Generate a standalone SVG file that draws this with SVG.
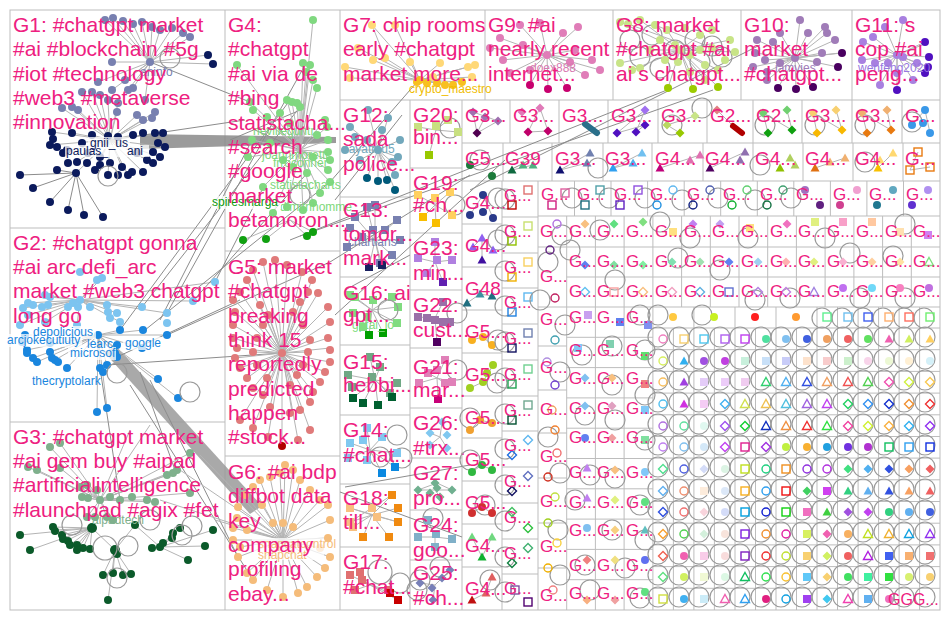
<svg xmlns="http://www.w3.org/2000/svg" width="950" height="620" viewBox="0 0 950 620">
<style>
.bx{fill:none;stroke:#BDBDBD;stroke-width:1}
.lb{font-family:"Liberation Sans",Arial,sans-serif;font-size:21px;fill:#EE2080}
.m{font-size:19px}
.s{font-size:17px}
.e{stroke:#B4B4B4;stroke-width:1;fill:none}
.ed{stroke:#8C8C8C;stroke-width:1;fill:none}
.lp{fill:none;stroke:#9A9A9A;stroke-width:1.2}
.nl{font-family:"Liberation Sans",Arial,sans-serif;font-size:12px}
.bg{fill:#fff;opacity:.75}
</style>
<defs>
<circle id="L" r="10" class="lp"/>
<circle id="sp" r="4"/>
<circle id="hc" r="4" fill="none" stroke-width="1.4"/>
<rect id="hs" x="-4" y="-4" width="8" height="8" fill="none" stroke-width="1.4"/>
<path id="ht" d="M0,-4.5L4.5,3.5L-4.5,3.5Z" fill="none" stroke-width="1.4"/>
<path id="hd" d="M0,-4.5L4.5,0L0,4.5L-4.5,0Z" fill="none" stroke-width="1.4"/>
<rect id="fs" x="-4" y="-4" width="8" height="8"/>
<path id="fd" d="M0,-4.5L4.5,0L0,4.5L-4.5,0Z"/>
<path id="ft" d="M0,-4.5L4.5,3.5L-4.5,3.5Z"/>
</defs>
<rect width="950" height="620" fill="#fff"/>

<g id="grid" class="bx">
<rect x="10" y="10" width="930" height="600"/>
<path d="M10,228H225M10,422H225M225,10V610M225,251H340M225,456H340M340,10V610M340,100H940M485,10V100M613,10V100M741,10V100M852,10V100
M340,197H410M340,277H410M340,345H410M340,415H410M340,484H410M340,547H410M410,100V610
M410,168H462M410,233H462M410,290H462M410,348H462M410,408H462M410,458H462M410,510H462M410,560H462M462,100V610
M462,143H940M510,100V143M559,100V143M608,100V143M658,100V143M707,100V143M753,100V143M802,100V143M852,100V143M902,100V143
M462,181H940M503,143V181M552,143V181M603,143V181M652,143V181M703,143V181M753,143V181M803,143V181M853,143V181M903,143V181
M462,224H502M462,267H502M462,310H502M462,353H502M462,396H502M462,438H502M462,481H502M462,524H502M462,567H502M502,181V610
M502,217H538M502,253H538M502,288H538M502,324H538M502,360H538M502,396H538M502,431H538M502,467H538M502,503H538M502,539H538M502,574H538M538,181V610
M574.5,181V216M611,181V216M647.6,181V216M684.2,181V216M720.7,181V216M757.3,181V216M793.8,181V216M830.4,181V216M866.9,181V216M903.5,181V216
M538,216H940M538,247H940M566.7,277H940M538,307H940
M566.7,216V610M595.4,216V610M624.1,216V610M652.9,216V610M681.6,216V307M710.3,216V307M739,216V307M767.7,216V307M796.4,216V307M825.1,216V307M853.9,216V307M882.6,216V307M911.3,216V307
M538,346H566.7M538,390H566.7M538,433H566.7M538,478H566.7M538,523H566.7M538,568H566.7
M566.7,337.3H652.9M566.7,367.6H652.9M566.7,397.9H652.9M566.7,428.2H652.9M566.7,458.5H652.9M566.7,488.8H652.9M566.7,519.1H652.9M566.7,549.4H652.9M566.7,579.7H652.9
M652.9,328H940M652.9,349.7H940M652.9,371.4H940M652.9,393.1H940M652.9,414.8H940M652.9,436.5H940M652.9,458.1H940M652.9,479.8H940M652.9,501.5H940M652.9,523.2H940M652.9,544.9H940M652.9,566.6H940M652.9,588.3H940
M673.4,328V610M693.9,307V610M714.4,328V610M735,307V610M755.5,328V610M776,307V610M796.5,328V610M817,307V610M837.5,307V610M858.1,307V610M878.6,307V610M899.1,307V610M919.6,307V610"/>
</g>

<g id="edges">
<polygon points="140,134 336,137 336,143 140,149" fill="#8A8A8A" opacity="0.85"/>
<polygon points="104,352 116,346 262,506 250,514" fill="#9A9A9A" opacity="0.85"/>
<path class="e" d="M150,62L105,20M150,62L113,18M150,62L123,21M150,62L133,24M150,62L142,22M150,62L152,27M150,62L160,30M150,62L172,28M150,62L183,33M150,62L190,37M150,62L208,55M150,62L213,64M150,62L112,62M150,62L133,88M150,62L128,90M150,62L112,90M150,62L125,80M150,62L145,100M150,62L98,82
M110,140L82,92M110,140L92,92M110,140L100,95M110,140L108,100M110,140L62,108M110,140L72,107M110,140L78,110M110,140L118,103M110,140L117,112M110,140L137,115M110,140L143,120M110,140L152,118M110,140L155,112
M110,140L52,132M110,140L50,145M110,140L72,133M110,140L92,135M110,140L133,135M110,140L163,133M110,140L165,147M110,140L160,157M110,140L153,163M110,140L143,172M110,140L128,175M110,140L108,175M110,140L95,170M110,140L77,162M110,140L63,153M110,140L100,157M110,140L147,160M110,140L122,167M110,140L76,173"/>
<path class="ed" d="M76,173L20,175M76,173L33,188M76,173L50,202M76,173L68,210M76,173L84,215M76,173L103,217M76,173L57,170"/>
<path class="e" d="M80,300L28,303M80,300L45,295M80,300L50,297M80,300L97,280M80,300L102,278M80,300L23,308M80,300L28,315M80,300L20,325M80,300L42,307M80,300L68,307M80,300L90,307M80,300L107,305M80,300L117,313M80,300L120,322M80,300L142,307M80,300L167,313M80,300L193,301M80,300L215,282M80,300L45,322M80,300L77,325
M98,335L25,335M98,335L22,342M98,335L27,350M98,335L33,358M98,335L37,362M98,335L50,352M98,335L55,360M98,335L67,368M98,335L120,330M98,335L143,330M98,335L167,335M98,335L142,348M98,335L117,357M98,335L107,365M98,335L100,368M98,335L158,379M98,335L178,398M98,335L97,412M98,335L107,408"/>
<path class="ed" d="M142,307L300,107M167,313L305,65M193,301L310,170M215,282L262,190M120,330L290,100M145,330L330,182M160,320L252,140M107,365L282,353M117,357L240,300M167,335L330,262M150,380L238,557M130,385L253,580M100,368L120,500M140,372L175,470M110,140L245,120M150,62L250,102M230,140L305,108M300,150L255,130"/>
<path class="e" d="M300,150L313,20M300,150L303,63M300,150L310,65M300,150L306,72M300,150L313,80M300,150L317,88M300,150L287,100M300,150L292,102M300,150L297,103M300,150L300,107M300,150L237,65M300,150L250,102M300,150L253,110M300,150L325,120M300,150L327,127M300,150L328,140M300,150L328,152M300,150L330,160M300,150L328,170M300,150L330,182M300,150L320,193M300,150L313,203M300,150L303,210M300,150L287,207M300,150L273,213M300,150L263,187M300,150L248,157M300,150L252,140M300,150L270,143M300,150L283,160M300,150L293,167M300,150L307,173M300,150L313,157M300,150L317,135M300,150L290,123M300,150L280,113M300,150L267,117M290,220L243,240M290,220L266,239M290,220L307,236M290,220L313,232"/>
<path class="e" d="M282,353L275,260M282,353L287,265M282,353L302,272M282,353L312,280M282,353L318,293M282,353L328,307M282,353L330,322M282,353L328,338M282,353L330,348M282,353L330,362M282,353L325,372M282,353L320,382M282,353L313,392M282,353L310,402M282,353L300,410M282,353L292,412M282,353L263,262M282,353L253,270M282,353L247,280M282,353L240,292M282,353L233,298M282,353L235,312M282,353L233,325M282,353L233,338M282,353L237,348M282,353L235,358M282,353L240,368M282,353L247,378M282,353L253,388M282,353L263,395M282,353L270,407M282,353L308,292M282,353L300,302M282,353L293,312M282,353L260,305M282,353L268,315M282,353L303,325M282,353L310,340M282,353L308,352M282,353L303,365M282,353L297,375M282,353L290,385M282,353L267,378M282,353L257,365M282,353L253,352M282,353L257,338M282,353L263,325M282,353L310,430M282,353L298,440M282,353L268,437M282,353L253,428M282,353L240,420M282,353L282,446"/>
<path class="e" d="M283,540L285,465M283,540L293,470M283,540L280,473M283,540L270,477M283,540L260,480M283,540L253,487M283,540L238,507M283,540L237,518M283,540L233,528M283,540L247,530M283,540L273,523M283,540L283,523M283,540L293,527M283,540L330,520M283,540L328,538M283,540L320,548M283,540L330,557M283,540L325,568M283,540L317,577M283,540L307,587M283,540L298,593M283,540L283,597M283,540L267,590M283,540L253,580M283,540L247,573M283,540L238,557M283,540L240,547M283,540L233,540M283,540L300,480M283,540L310,490M283,540L320,500M283,540L328,505M283,540L245,495M283,540L262,505M283,540L180,470M283,540L160,500M283,540L200,455M283,540L215,520"/>
<path class="e" d="M100,500L50,447M100,500L60,443M100,500L28,467M100,500L37,470M100,500L60,468M100,500L173,473M100,500L190,493M100,500L82,497M100,500L88,498M100,500L110,497M100,500L120,500M100,500L132,497M100,500L147,500M100,500L155,502M100,500L177,470M100,500L190,453M100,500L167,475M100,500L80,487M100,500L87,485M100,500L97,490M100,500L113,520M100,500L107,517M100,500L95,517M100,500L87,517M100,500L130,430M100,500L150,425
M92,528L20,535M92,528L30,550M92,528L53,527M92,528L55,530M92,528L62,535M92,528L63,538M92,528L68,540M92,528L70,545M92,528L77,545M92,528L83,548M92,528L90,549M92,528L77,550M115,550L92,528M115,550L117,553M115,550L135,525M115,550L103,575M115,550L113,573M115,550L123,575M115,550L131,574M115,550L108,600M160,547L152,548M160,547L163,543M160,547L172,538M160,547L173,533M160,547L180,528M160,547L205,546M160,547L188,560M160,547L213,530M160,547L135,525"/>
<path class="e" d="M420,80L372,25M420,80L395,25M420,80L358,48M420,80L345,67M420,80L350,78M420,80L373,60M420,80L385,58M420,80L410,62M420,80L440,63M420,80L468,67M420,80L472,77M420,80L475,65M420,80L417,82M420,80L427,83M420,80L437,83M420,80L445,85M420,80L453,85M420,80L462,82M420,80L433,77M372,25L385,58
M547,55L520,25M547,55L540,23M547,55L578,27M547,55L563,33M547,55L500,38M547,55L490,48M547,55L503,60M547,55L523,45M547,55L575,50M547,55L592,60M547,55L600,70M547,55L585,75M547,55L510,73M547,55L530,70M547,55L570,62M547,55L530,85M547,55L548,89M547,55L567,88
M680,50L620,22M680,50L640,20M680,50L667,30M680,50L700,35M680,50L730,40M680,50L735,52M680,50L620,63M680,50L632,70M680,50L650,50M680,50L665,60M680,50L705,65M680,50L718,70M680,50L690,72M680,50L705,80M680,50L668,88M680,50L693,89M680,50L718,87M628,24L700,50M655,25L712,48
M795,58L780,33M795,58L800,20M795,58L808,33M795,58L825,27M795,58L827,33M795,58L835,40M795,58L822,53M795,58L817,62M795,58L840,53M795,58L838,67M795,58L773,42M795,58L757,40M795,58L755,53M795,58L765,60M795,58L767,72M795,58L780,63M795,58L767,80M795,58L753,67M795,58L778,88M795,58L796,89M795,58L813,87M795,58L842,53
M897,55L903,20M897,55L885,27M897,55L873,37M897,55L863,42M897,55L862,60M897,55L875,63M897,55L888,63M897,55L903,57M897,55L917,63M897,55L897,73M897,55L880,85M897,55L913,80M897,55L927,43M897,55L925,42M897,55L929,57M897,55L928,67M897,55L925,73M897,55L897,90"/>
<path class="e" d="M378,150L368,110M378,150L388,118M378,150L350,127M378,150L355,137M378,150L367,140M378,150L398,157M378,150L392,162M378,150L345,150M378,150L360,160M378,150L400,140M378,150L382,130M378,150L395,175M378,150L367,178M378,150L378,181M378,150L387,180M378,150L395,190
M375,240L367,207M375,240L375,205M375,240L397,220M375,240L400,240M375,240L385,230M375,240L373,230M375,240L392,255M375,240L380,263M375,240L362,237M375,240L347,247M375,240L350,228M375,240L355,217M375,240L369,267M375,240L382,265
M372,310L350,295M372,310L355,297M372,310L373,300M372,310L392,297M372,310L398,307M372,310L397,323M372,310L367,317M372,310L353,313M372,310L363,327M372,310L369,335M372,310L383,333
M375,380L370,357M375,380L380,367M375,380L348,375M375,380L352,387M375,380L372,377M375,380L397,383M375,380L390,393M375,380L363,403M375,380L378,405M375,380L392,397M375,380L353,398
M370,450L350,443M370,450L363,440M370,450L367,428M370,450L382,437M370,450L397,453M370,450L367,460M370,450L348,458M370,450L382,473M370,450L395,467
M372,515L350,508M372,515L377,517M372,515L350,522M372,515L353,527M372,515L392,495M372,515L398,508M372,515L398,522M372,515L363,537M372,515L389,537M350,508L398,522M350,522L392,495
M370,585L350,575M370,585L360,572M370,585L362,580M370,585L355,590M370,585L388,590M370,585L398,600M370,585L390,593"/>
<path class="e" d="M436,130L418,127M436,130L436,126M436,130L448,120M436,130L458,132M436,130L429,155M435,205L418,195M435,205L435,198M435,205L450,192M435,205L452,215M435,205L423,217M435,205L436,223M435,262L418,258M435,262L437,260M435,262L435,242M435,262L452,260M435,262L427,273M435,262L443,282M435,318L418,317M435,318L450,322M435,318L443,302M435,318L437,342M437,378L445,360M437,378L428,373M437,378L419,383M437,378L445,383M437,378L452,382M437,378L438,397M440,437L430,433M440,437L442,422M440,437L447,448M440,437L430,445M435,490L418,490M435,490L452,490M435,490L437,483M435,490L440,497M418,490L437,483M452,490L437,483M435,537L418,537M435,537L452,539M435,537L428,520M435,537L435,547M435,585L420,583M435,585L450,570M435,585L442,578M435,585L433,600"/>
<path class="ed" d="M290,240L667,90M300,236L713,90M335,315L505,160M470,190L760,45M330,182L417,82M335,200L402,115M340,492L462,537M345,487L470,465M330,262L470,175M345,290L410,255"/>
<path class="e" d="M473,112L498,121M473,112L477,133M485,117L477,133M498,121L477,133M540,108L528,132M540,108L548,131M528,132L548,131M645,110L617,133M645,110L636,132M617,133L645,125M636,132L645,125M667,125L680,133M695,116L667,125M717,110L733,126M763,113L768,133M787,110L792,130M763,113L792,130M813,113L817,133M836,110L842,130M813,113L842,130M862,113L867,133M887,110L891,130M862,113L891,130M925,110L912,125M925,110L930,133M512,170L533,165M560,170L590,153M560,170L587,163M642,153L613,168M633,163L613,168M660,168L700,155M710,168L745,152M815,168L845,158M878,168L893,153M918,152L910,170M910,170L930,167M483,195L470,215M483,195L493,218M482,238L473,247M482,238L493,250M482,238L482,260M467,303L480,294M480,294L492,296M472,340L483,337M483,337L492,345M470,388L483,382M483,382L493,365M470,430L480,420M480,420L492,423M472,472L482,465M482,465L492,470M472,513L482,507M482,507L492,513M482,557L472,537M482,557L492,537M472,600L486,593M486,593L492,577"/>
</g>

<g id="G1">
<g fill="#7880B0"><circle cx="105" cy="20" r="4"/><circle cx="113" cy="18" r="4"/><circle cx="123" cy="21" r="4"/><circle cx="133" cy="24" r="4"/><circle cx="142" cy="22" r="4"/><circle cx="152" cy="27" r="4"/><circle cx="160" cy="30" r="4"/><circle cx="172" cy="28" r="4"/><circle cx="183" cy="33" r="4"/><circle cx="190" cy="37" r="4"/><circle cx="112" cy="62" r="4"/><circle cx="133" cy="88" r="4"/><circle cx="128" cy="90" r="4"/><circle cx="112" cy="90" r="4"/><circle cx="125" cy="80" r="4"/><circle cx="145" cy="100" r="4"/><circle cx="98" cy="82" r="4"/><circle cx="82" cy="92" r="4"/><circle cx="92" cy="92" r="4"/><circle cx="100" cy="95" r="4"/><circle cx="108" cy="100" r="4"/><circle cx="62" cy="108" r="4"/><circle cx="72" cy="107" r="4"/><circle cx="78" cy="110" r="4"/><circle cx="118" cy="103" r="4"/><circle cx="117" cy="112" r="4"/><circle cx="137" cy="115" r="4"/><circle cx="143" cy="120" r="4"/><circle cx="152" cy="118" r="4"/><circle cx="155" cy="112" r="4"/><circle cx="150" cy="62" r="4"/></g>
<g fill="#0B1A5C"><circle cx="208" cy="55" r="4"/><circle cx="213" cy="64" r="4"/><circle cx="52" cy="132" r="4"/><circle cx="53" cy="139" r="4"/><circle cx="50" cy="145" r="4"/><circle cx="57" cy="147" r="4"/><circle cx="72" cy="133" r="4"/><circle cx="82" cy="143" r="4"/><circle cx="92" cy="135" r="4"/><circle cx="108" cy="136" r="4"/><circle cx="118" cy="137" r="4"/><circle cx="133" cy="135" r="4"/><circle cx="143" cy="133" r="4"/><circle cx="155" cy="133" r="4"/><circle cx="163" cy="133" r="4"/><circle cx="158" cy="143" r="4"/><circle cx="153" cy="152" r="4"/><circle cx="165" cy="147" r="4"/><circle cx="160" cy="157" r="4"/><circle cx="153" cy="163" r="4"/><circle cx="143" cy="172" r="4"/><circle cx="132" cy="172" r="4"/><circle cx="128" cy="175" r="4"/><circle cx="118" cy="175" r="4"/><circle cx="108" cy="175" r="4"/><circle cx="95" cy="170" r="4"/><circle cx="87" cy="163" r="4"/><circle cx="77" cy="162" r="4"/><circle cx="68" cy="163" r="4"/><circle cx="63" cy="153" r="4"/><circle cx="67" cy="150" r="4"/><circle cx="88" cy="153" r="4"/><circle cx="100" cy="157" r="4"/><circle cx="137" cy="153" r="4"/><circle cx="147" cy="160" r="4"/><circle cx="122" cy="167" r="4"/><circle cx="110" cy="163" r="4"/><circle cx="100" cy="165" r="4"/><circle cx="76" cy="173" r="4"/><circle cx="20" cy="175" r="4"/><circle cx="33" cy="188" r="4"/><circle cx="50" cy="202" r="4"/><circle cx="68" cy="210" r="4"/><circle cx="84" cy="215" r="4"/><circle cx="103" cy="217" r="4"/><circle cx="57" cy="170" r="4"/></g>
<use href="#L" x="108" y="176"/><use href="#L" x="170" y="58"/>
<rect class="bg" x="88" y="137" width="42" height="12"/><rect class="bg" x="65" y="145" width="84" height="12"/>
<text class="nl" x="90" y="147" fill="#0B1A5C">gnii_us</text>
<text class="nl" x="66" y="155" fill="#0B1A5C">paulas_</text><text class="nl" x="127" y="155" fill="#0B1A5C">ani</text>
<text class="nl" x="140" y="76" fill="#7880B0">aninfo</text>
<text class="lb" x="13" y="32">G1: #chatgpt market</text>
<text class="lb" x="13" y="56">#ai #blockchain #5g</text>
<text class="lb" x="13" y="81">#iot #technology</text>
<text class="lb" x="13" y="105">#web3 #metaverse</text>
<text class="lb" x="13" y="129">#innovation</text>
</g>

<g id="G2">
<g fill="#7CC4F0"><circle cx="80" cy="272" r="4"/><circle cx="97" cy="280" r="4"/><circle cx="102" cy="278" r="4"/><circle cx="45" cy="295" r="4"/><circle cx="50" cy="297" r="4"/><circle cx="28" cy="303" r="4"/><circle cx="33" cy="305" r="4"/><circle cx="23" cy="308" r="4"/><circle cx="28" cy="315" r="4"/><circle cx="20" cy="325" r="4"/><circle cx="42" cy="307" r="4"/><circle cx="48" cy="305" r="4"/><circle cx="68" cy="307" r="4"/><circle cx="73" cy="303" r="4"/><circle cx="78" cy="307" r="4"/><circle cx="90" cy="307" r="4"/><circle cx="107" cy="305" r="4"/><circle cx="108" cy="312" r="4"/><circle cx="117" cy="313" r="4"/><circle cx="110" cy="318" r="4"/><circle cx="120" cy="322" r="4"/><circle cx="142" cy="307" r="4"/><circle cx="167" cy="313" r="4"/><circle cx="167" cy="323" r="4"/><circle cx="193" cy="301" r="4"/><circle cx="215" cy="282" r="4"/><circle cx="45" cy="322" r="4"/><circle cx="77" cy="325" r="4"/><circle cx="80" cy="300" r="4"/></g>
<g fill="#1A86DE"><circle cx="25" cy="335" r="4"/><circle cx="22" cy="342" r="4"/><circle cx="27" cy="350" r="4"/><circle cx="27" cy="353" r="4"/><circle cx="33" cy="358" r="4"/><circle cx="37" cy="362" r="4"/><circle cx="50" cy="352" r="4"/><circle cx="52" cy="358" r="4"/><circle cx="55" cy="360" r="4"/><circle cx="58" cy="362" r="4"/><circle cx="67" cy="368" r="4"/><circle cx="50" cy="343" r="4"/><circle cx="98" cy="335" r="4"/><circle cx="120" cy="330" r="4"/><circle cx="143" cy="330" r="4"/><circle cx="167" cy="335" r="4"/><circle cx="142" cy="348" r="4"/><circle cx="117" cy="345" r="4"/><circle cx="117" cy="357" r="4"/><circle cx="115" cy="353" r="4"/><circle cx="107" cy="365" r="4"/><circle cx="100" cy="368" r="4"/><circle cx="103" cy="372" r="4"/><circle cx="158" cy="379" r="4"/><circle cx="178" cy="398" r="4"/><circle cx="97" cy="412" r="4"/><circle cx="107" cy="408" r="4"/></g>
<use href="#L" x="190" y="392"/><use href="#L" x="117" y="373"/>
<rect class="bg" x="32" y="326" width="64" height="13"/><rect class="bg" x="6" y="334" width="76" height="13"/><rect class="bg" x="68" y="347" width="48" height="13"/><rect class="bg" x="123" y="337" width="38" height="13"/>
<text class="nl" x="33" y="336" fill="#1A86DE">depolicious</text>
<text class="nl" x="7" y="344" fill="#1A86DE">arcjokecutiuty</text>
<text class="nl" x="87" y="348" fill="#1A86DE">learc</text>
<text class="nl" x="70" y="357" fill="#1A86DE">microsof</text>
<text class="nl" x="125" y="347" fill="#1A86DE">google</text>
<text class="nl" x="32" y="385" fill="#1A86DE">thecryptolark</text>
<text class="lb" x="13" y="250">G2: #chatgpt gonna</text>
<text class="lb" x="13" y="274">#ai arc defi_arc</text>
<text class="lb" x="13" y="298">market #web3 chatgpt</text>
<text class="lb" x="13" y="323">long go</text>
</g>

<g id="G3">
<g fill="#7FB08C"><circle cx="50" cy="447" r="4"/><circle cx="60" cy="443" r="4"/><circle cx="28" cy="467" r="4"/><circle cx="37" cy="470" r="4"/><circle cx="60" cy="468" r="4"/><circle cx="173" cy="473" r="4"/><circle cx="190" cy="493" r="4"/><circle cx="82" cy="497" r="4"/><circle cx="88" cy="498" r="4"/><circle cx="110" cy="497" r="4"/><circle cx="120" cy="500" r="4"/><circle cx="132" cy="497" r="4"/><circle cx="147" cy="500" r="4"/><circle cx="155" cy="502" r="4"/><circle cx="177" cy="470" r="4"/><circle cx="190" cy="453" r="4"/><circle cx="167" cy="475" r="4"/><circle cx="80" cy="487" r="4"/><circle cx="87" cy="485" r="4"/><circle cx="97" cy="490" r="4"/><circle cx="113" cy="520" r="4"/><circle cx="107" cy="517" r="4"/><circle cx="95" cy="517" r="4"/><circle cx="87" cy="517" r="4"/><circle cx="100" cy="500" r="4"/></g>
<g fill="#0B5A2A"><circle cx="20" cy="535" r="4"/><circle cx="30" cy="550" r="4"/><circle cx="53" cy="527" r="4"/><circle cx="55" cy="531" r="4"/><circle cx="62" cy="535" r="4"/><circle cx="63" cy="539" r="4"/><circle cx="68" cy="541" r="4"/><circle cx="70" cy="545" r="4"/><circle cx="77" cy="545" r="4"/><circle cx="83" cy="548" r="4"/><circle cx="90" cy="549" r="4"/><circle cx="77" cy="550" r="4"/><circle cx="92" cy="528" r="5"/><circle cx="115" cy="550" r="5"/><circle cx="117" cy="554" r="4"/><circle cx="135" cy="525" r="4"/><circle cx="152" cy="548" r="4"/><circle cx="160" cy="547" r="4"/><circle cx="163" cy="543" r="4"/><circle cx="172" cy="538" r="4"/><circle cx="173" cy="533" r="4"/><circle cx="180" cy="528" r="4"/><circle cx="205" cy="546" r="4"/><circle cx="188" cy="560" r="4"/><circle cx="213" cy="530" r="4"/><circle cx="103" cy="575" r="4"/><circle cx="113" cy="573" r="4"/><circle cx="123" cy="575" r="4"/><circle cx="131" cy="574" r="4"/><circle cx="108" cy="600" r="4"/></g>
<circle cx="105" cy="548" r="12" class="lp"/><use href="#L" x="128" y="546"/><use href="#L" x="117" y="578"/><use href="#L" x="150" y="520"/><use href="#L" x="182" y="535"/><use href="#L" x="192" y="526"/><use href="#L" x="72" y="525"/>
<text class="nl" x="92" y="524" fill="#7FB08C">aipadtech</text>
<text class="lb" x="13" y="444">G3: #chatgpt market</text>
<text class="lb" x="13" y="468">#ai gem buy #aipad</text>
<text class="lb" x="13" y="492">#artificialintelligence</text>
<text class="lb" x="13" y="517">#launchpad #agix #fet</text>
</g>

<g id="G4">
<g fill="#80D880"><circle cx="313" cy="20" r="4"/><circle cx="303" cy="63" r="4"/><circle cx="310" cy="65" r="4"/><circle cx="306" cy="72" r="4"/><circle cx="313" cy="80" r="4"/><circle cx="317" cy="88" r="4"/><circle cx="287" cy="100" r="4"/><circle cx="292" cy="102" r="4"/><circle cx="297" cy="103" r="4"/><circle cx="300" cy="107" r="4"/><circle cx="237" cy="65" r="4"/><circle cx="250" cy="102" r="4"/><circle cx="253" cy="110" r="4"/><circle cx="325" cy="120" r="4"/><circle cx="327" cy="127" r="4"/><circle cx="328" cy="140" r="4"/><circle cx="328" cy="152" r="4"/><circle cx="330" cy="160" r="4"/><circle cx="328" cy="170" r="4"/><circle cx="330" cy="182" r="4"/><circle cx="320" cy="193" r="4"/><circle cx="313" cy="203" r="4"/><circle cx="303" cy="210" r="4"/><circle cx="287" cy="207" r="4"/><circle cx="273" cy="213" r="4"/><circle cx="263" cy="187" r="4"/><circle cx="248" cy="157" r="4"/><circle cx="252" cy="140" r="4"/><circle cx="270" cy="143" r="4"/><circle cx="283" cy="160" r="4"/><circle cx="293" cy="167" r="4"/><circle cx="307" cy="173" r="4"/><circle cx="313" cy="157" r="4"/><circle cx="317" cy="135" r="4"/><circle cx="290" cy="123" r="4"/><circle cx="280" cy="113" r="4"/><circle cx="267" cy="117" r="4"/></g>
<g fill="#10A010"><circle cx="243" cy="240" r="4"/><circle cx="266" cy="239" r="4"/><circle cx="307" cy="236" r="4"/><circle cx="313" cy="232" r="4"/></g>
<use href="#L" x="300" y="195"/>
<text class="nl" x="253" y="135" fill="#7DD87A">nevilleguntr</text>
<text class="nl" x="262" y="159" fill="#7DD87A">joannmoretti</text>
<text class="nl" x="273" y="167" fill="#7DD87A">frroconner</text>
<text class="nl" x="270" y="189" fill="#7DD87A">statistacharts</text>
<text class="nl" x="280" y="211" fill="#7DD87A">dimitrihomme</text>
<rect class="bg" x="211" y="196" width="70" height="13"/>
<text class="nl" x="212" y="206" fill="#0A9A0A">spiresmarga</text>
<text class="lb" x="228" y="32">G4:</text>
<text class="lb" x="228" y="56">#chatgpt</text>
<text class="lb" x="228" y="81">#ai via de</text>
<text class="lb" x="228" y="105">#bing</text>
<text class="lb" x="228" y="130">statistacha...</text>
<text class="lb" x="228" y="154">#search</text>
<text class="lb" x="228" y="178">#google</text>
<text class="lb" x="228" y="203">market</text>
<text class="lb" x="228" y="227">betamoron...</text>
</g>

<g id="G5">
<g fill="#E07A7A"><circle cx="275" cy="260" r="4"/><circle cx="287" cy="265" r="4"/><circle cx="302" cy="272" r="4"/><circle cx="312" cy="280" r="4"/><circle cx="318" cy="293" r="4"/><circle cx="328" cy="307" r="4"/><circle cx="330" cy="322" r="4"/><circle cx="328" cy="338" r="4"/><circle cx="330" cy="350" r="4"/><circle cx="330" cy="362" r="4"/><circle cx="325" cy="372" r="4"/><circle cx="320" cy="382" r="4"/><circle cx="313" cy="392" r="4"/><circle cx="310" cy="402" r="4"/><circle cx="300" cy="410" r="4"/><circle cx="290" cy="413" r="4"/><circle cx="263" cy="262" r="4"/><circle cx="253" cy="270" r="4"/><circle cx="247" cy="280" r="4"/><circle cx="240" cy="292" r="4"/><circle cx="233" cy="300" r="4"/><circle cx="235" cy="312" r="4"/><circle cx="233" cy="325" r="4"/><circle cx="233" cy="338" r="4"/><circle cx="237" cy="348" r="4"/><circle cx="235" cy="358" r="4"/><circle cx="240" cy="368" r="4"/><circle cx="247" cy="378" r="4"/><circle cx="253" cy="388" r="4"/><circle cx="263" cy="395" r="4"/><circle cx="270" cy="407" r="4"/><circle cx="308" cy="292" r="4"/><circle cx="300" cy="302" r="4"/><circle cx="293" cy="312" r="4"/><circle cx="260" cy="305" r="4"/><circle cx="268" cy="315" r="4"/><circle cx="303" cy="325" r="4"/><circle cx="310" cy="340" r="4"/><circle cx="308" cy="352" r="4"/><circle cx="303" cy="365" r="4"/><circle cx="297" cy="375" r="4"/><circle cx="290" cy="385" r="4"/><circle cx="267" cy="378" r="4"/><circle cx="257" cy="365" r="4"/><circle cx="253" cy="352" r="4"/><circle cx="257" cy="338" r="4"/><circle cx="263" cy="325" r="4"/><circle cx="310" cy="430" r="4"/><circle cx="298" cy="440" r="4"/><circle cx="268" cy="437" r="4"/><circle cx="253" cy="428" r="4"/><circle cx="240" cy="420" r="4"/><circle cx="282" cy="353" r="4"/></g>
<circle cx="282" cy="446" r="4" fill="#B00000"/>
<text class="lb" x="228" y="274">G5: market</text>
<text class="lb" x="228" y="298">#chatgpt</text>
<text class="lb" x="228" y="323">breaking</text>
<text class="lb" x="228" y="347">think 15</text>
<text class="lb" x="228" y="371">reportedly</text>
<text class="lb" x="228" y="396">predicted</text>
<text class="lb" x="228" y="420">happen</text>
<text class="lb" x="228" y="444">#stock...</text>
</g>

<g id="G6">
<g fill="#F5BC7A"><circle cx="285" cy="465" r="4"/><circle cx="293" cy="470" r="4"/><circle cx="280" cy="473" r="4"/><circle cx="270" cy="477" r="4"/><circle cx="260" cy="480" r="4"/><circle cx="253" cy="487" r="4"/><circle cx="238" cy="507" r="4"/><circle cx="237" cy="518" r="4"/><circle cx="233" cy="528" r="4"/><circle cx="247" cy="530" r="4"/><circle cx="273" cy="523" r="4"/><circle cx="283" cy="523" r="4"/><circle cx="293" cy="527" r="4"/><circle cx="330" cy="520" r="4"/><circle cx="328" cy="538" r="4"/><circle cx="320" cy="548" r="4"/><circle cx="330" cy="557" r="4"/><circle cx="325" cy="568" r="4"/><circle cx="317" cy="577" r="4"/><circle cx="307" cy="587" r="4"/><circle cx="298" cy="593" r="4"/><circle cx="283" cy="597" r="4"/><circle cx="267" cy="590" r="4"/><circle cx="253" cy="580" r="4"/><circle cx="247" cy="573" r="4"/><circle cx="238" cy="557" r="4"/><circle cx="240" cy="547" r="4"/><circle cx="233" cy="540" r="4"/><circle cx="300" cy="480" r="4"/><circle cx="310" cy="490" r="4"/><circle cx="320" cy="500" r="4"/><circle cx="328" cy="505" r="4"/><circle cx="245" cy="495" r="4"/><circle cx="262" cy="505" r="4"/></g>
<rect class="bg" x="252" y="538" width="72" height="22"/>
<text class="nl" x="258" y="548" fill="#F5BC7A">snapcatcontrol</text>
<text class="nl" x="258" y="559" fill="#F5BC7A">snapchat</text>
<text class="lb" x="228" y="479">G6: #ai bdp</text>
<text class="lb" x="228" y="503">diffbot data</text>
<text class="lb" x="228" y="528">key</text>
<text class="lb" x="228" y="552">company</text>
<text class="lb" x="228" y="576">profiling</text>
<text class="lb" x="228" y="601">ebay...</text>
</g>

<g id="G7">
<g fill="#FFD877"><circle cx="372" cy="25" r="4"/><circle cx="395" cy="25" r="4"/><circle cx="358" cy="48" r="4"/><circle cx="345" cy="67" r="4"/><circle cx="350" cy="78" r="4"/><circle cx="373" cy="60" r="4"/><circle cx="385" cy="58" r="4"/><circle cx="410" cy="62" r="4"/><circle cx="440" cy="63" r="4"/><circle cx="468" cy="67" r="4"/><circle cx="472" cy="77" r="4"/><circle cx="475" cy="65" r="4"/><circle cx="433" cy="77" r="4"/></g>
<g fill="#F8C020"><circle cx="417" cy="82" r="4"/><circle cx="427" cy="83" r="4"/><circle cx="437" cy="83" r="4"/><circle cx="445" cy="85" r="4"/><circle cx="453" cy="85" r="4"/><circle cx="462" cy="82" r="4"/><circle cx="420" cy="80" r="4"/></g>
<text class="nl" x="409" y="93" fill="#F0BC00">crypto_maestro</text>
<text class="lb" x="343" y="32">G7: chip rooms</text>
<text class="lb" x="343" y="56">early #chatgpt</text>
<text class="lb" x="343" y="81">market more...</text>
</g>

<g id="G9">
<g fill="#E07DB8"><circle cx="520" cy="25" r="4"/><circle cx="540" cy="23" r="4"/><circle cx="578" cy="27" r="4"/><circle cx="563" cy="33" r="4"/><circle cx="500" cy="38" r="4"/><circle cx="490" cy="48" r="4"/><circle cx="503" cy="60" r="4"/><circle cx="523" cy="45" r="4"/><circle cx="575" cy="50" r="4"/><circle cx="592" cy="60" r="4"/><circle cx="600" cy="70" r="4"/><circle cx="585" cy="75" r="4"/><circle cx="510" cy="73" r="4"/><circle cx="530" cy="70" r="4"/><circle cx="570" cy="62" r="4"/><circle cx="547" cy="55" r="4"/></g>
<g fill="#C8006E"><circle cx="530" cy="85" r="4"/><circle cx="548" cy="89" r="4"/><circle cx="567" cy="88" r="4"/></g>
<text class="nl" x="530" y="72" fill="#D87AB0">doex888</text>
<text class="lb" x="488" y="32">G9: #ai</text>
<text class="lb" x="488" y="56">nearly recent</text>
<text class="lb" x="488" y="81">internet...</text>
</g>

<g id="G8">
<g class="lp"><circle cx="630" cy="40" r="10"/><circle cx="652" cy="35" r="10"/><circle cx="675" cy="50" r="10"/><circle cx="695" cy="40" r="10"/><circle cx="712" cy="46" r="10"/><circle cx="722" cy="57" r="10"/><circle cx="700" cy="62" r="10"/><circle cx="640" cy="57" r="10"/><circle cx="660" cy="68" r="10"/></g>
<g fill="#C8E487"><circle cx="620" cy="22" r="4"/><circle cx="628" cy="24" r="4"/><circle cx="640" cy="20" r="4"/><circle cx="655" cy="25" r="4"/><circle cx="667" cy="30" r="4"/><circle cx="685" cy="28" r="4"/><circle cx="700" cy="35" r="4"/><circle cx="712" cy="30" r="4"/><circle cx="730" cy="40" r="4"/><circle cx="735" cy="52" r="4"/><circle cx="620" cy="63" r="4"/><circle cx="632" cy="70" r="4"/><circle cx="640" cy="68" r="4"/><circle cx="650" cy="50" r="4"/><circle cx="665" cy="60" r="4"/><circle cx="678" cy="62" r="4"/><circle cx="690" cy="55" r="4"/><circle cx="705" cy="65" r="4"/><circle cx="718" cy="70" r="4"/><circle cx="725" cy="60" r="4"/><circle cx="660" cy="40" r="4"/><circle cx="675" cy="45" r="4"/><circle cx="700" cy="50" r="4"/><circle cx="712" cy="48" r="4"/><circle cx="690" cy="72" r="4"/><circle cx="705" cy="80" r="4"/><circle cx="680" cy="50" r="4"/></g>
<g fill="#9CCB00"><circle cx="668" cy="88" r="4"/><circle cx="693" cy="89" r="4"/><circle cx="718" cy="87" r="4"/></g>
<text class="lb" x="616" y="32">G8: market</text>
<text class="lb" x="616" y="56">#chatgpt #ai</text>
<text class="lb" x="616" y="81">ai s chatgpt...</text>
</g>

<g id="G10">
<g fill="#A07CB8"><circle cx="780" cy="33" r="4"/><circle cx="800" cy="20" r="4"/><circle cx="808" cy="33" r="4"/><circle cx="825" cy="27" r="4"/><circle cx="827" cy="33" r="4"/><circle cx="835" cy="40" r="4"/><circle cx="822" cy="53" r="4"/><circle cx="817" cy="62" r="4"/><circle cx="773" cy="42" r="4"/><circle cx="757" cy="40" r="4"/><circle cx="755" cy="53" r="4"/><circle cx="765" cy="60" r="4"/><circle cx="767" cy="72" r="4"/><circle cx="780" cy="63" r="4"/><circle cx="767" cy="80" r="4"/><circle cx="753" cy="67" r="4"/><circle cx="795" cy="58" r="4"/></g>
<g fill="#4A0060"><circle cx="778" cy="88" r="4"/><circle cx="796" cy="89" r="4"/><circle cx="813" cy="87" r="4"/><circle cx="842" cy="53" r="4"/><circle cx="838" cy="67" r="4"/></g>
<text class="nl" x="775" y="72" fill="#A07CB8">iamvies</text>
<text class="lb" x="744" y="32">G10:</text>
<text class="lb" x="744" y="56">market</text>
<text class="lb" x="744" y="81">#chatgpt...</text>
</g>

<g id="G11">
<g fill="#A880E0"><circle cx="903" cy="20" r="4"/><circle cx="885" cy="27" r="4"/><circle cx="873" cy="37" r="4"/><circle cx="863" cy="42" r="4"/><circle cx="862" cy="60" r="4"/><circle cx="875" cy="63" r="4"/><circle cx="888" cy="63" r="4"/><circle cx="903" cy="57" r="4"/><circle cx="917" cy="63" r="4"/><circle cx="897" cy="73" r="4"/><circle cx="880" cy="85" r="4"/><circle cx="913" cy="80" r="4"/><circle cx="897" cy="55" r="4"/></g>
<g fill="#5010C0"><circle cx="925" cy="42" r="4"/><circle cx="929" cy="57" r="4"/><circle cx="928" cy="67" r="4"/><circle cx="925" cy="73" r="4"/><circle cx="897" cy="90" r="4"/></g>
<text class="nl" x="858" y="72" fill="#9878E0">wenfeng2020</text>
<text class="lb" x="855" y="32">G11: s</text>
<text class="lb" x="855" y="56">cop #ai</text>
<text class="lb" x="855" y="81">peng...</text>
</g>

<g id="G12">
<g fill="#72A8BC"><circle cx="368" cy="110" r="4"/><circle cx="388" cy="118" r="4"/><circle cx="350" cy="127" r="4"/><circle cx="355" cy="137" r="4"/><circle cx="367" cy="140" r="4"/><circle cx="398" cy="157" r="4"/><circle cx="392" cy="162" r="4"/><circle cx="345" cy="150" r="4"/><circle cx="360" cy="160" r="4"/><circle cx="400" cy="140" r="4"/><circle cx="382" cy="130" r="4"/><circle cx="395" cy="175" r="4"/><circle cx="378" cy="150" r="4"/></g>
<g fill="#005A7A"><circle cx="367" cy="178" r="4"/><circle cx="378" cy="181" r="4"/><circle cx="387" cy="180" r="4"/><circle cx="395" cy="190" r="4"/></g>
<text class="nl" x="342" y="153" fill="#72A8BC">nayatmu5</text>
<text class="lb" x="343" y="122">G12:</text>
<text class="lb" x="343" y="146">sada</text>
<text class="lb" x="343" y="171">police...</text>
</g>

<g id="G13">
<g fill="#7880B0"><rect x="363" y="203" width="8" height="8"/><rect x="371" y="201" width="8" height="8"/><rect x="393" y="216" width="8" height="8"/><rect x="396" y="236" width="8" height="8"/><rect x="381" y="226" width="8" height="8"/><rect x="369" y="226" width="8" height="8"/><rect x="388" y="251" width="8" height="8"/><rect x="376" y="259" width="8" height="8"/><rect x="358" y="233" width="8" height="8"/><rect x="343" y="243" width="8" height="8"/><rect x="346" y="224" width="8" height="8"/><rect x="351" y="213" width="8" height="8"/></g>
<g fill="#1A2060"><rect x="365" y="263" width="8" height="8"/><rect x="378" y="261" width="8" height="8"/></g>
<text class="nl" x="348" y="246" fill="#7880B0">chartians</text>
<text class="lb" x="343" y="217">G13:</text>
<text class="lb" x="343" y="241">tomor...</text>
<text class="lb" x="343" y="265">mark...</text>
</g>

<g id="G16">
<g fill="#80DC80"><rect x="346" y="291" width="8" height="8"/><rect x="351" y="293" width="8" height="8"/><rect x="369" y="296" width="8" height="8"/><rect x="388" y="293" width="8" height="8"/><rect x="394" y="303" width="8" height="8"/><rect x="393" y="319" width="8" height="8"/><rect x="363" y="313" width="8" height="8"/><rect x="349" y="309" width="8" height="8"/><rect x="359" y="323" width="8" height="8"/></g>
<g fill="#00A000"><rect x="365" y="331" width="8" height="8"/><rect x="379" y="329" width="8" height="8"/></g>
<use href="#L" x="388" y="310"/>
<text class="nl" x="352" y="329" fill="#80DC80">gptai_io</text>
<text class="lb" x="343" y="300">G16: ai</text>
<text class="lb" x="343" y="322">gpt...</text>
</g>

<g id="G15">
<g fill="#70A885"><rect x="366" y="353" width="8" height="8"/><rect x="376" y="363" width="8" height="8"/><rect x="344" y="371" width="8" height="8"/><rect x="348" y="383" width="8" height="8"/><rect x="368" y="373" width="8" height="8"/><rect x="393" y="379" width="8" height="8"/><rect x="386" y="389" width="8" height="8"/></g>
<g fill="#006030"><rect x="359" y="399" width="8" height="8"/><rect x="374" y="401" width="8" height="8"/><rect x="388" y="393" width="8" height="8"/><rect x="349" y="394" width="8" height="8"/></g>
<text class="lb" x="343" y="369">G15:</text>
<text class="lb" x="343" y="392">hebbi...</text>
</g>

<g id="G14">
<g class="lp"><circle cx="397" cy="435" r="10"/><circle cx="380" cy="457" r="10"/><circle cx="402" cy="458" r="10"/></g>
<g fill="#80C8F0"><rect x="346" y="439" width="8" height="8"/><rect x="359" y="436" width="8" height="8"/><rect x="363" y="424" width="8" height="8"/><rect x="378" y="433" width="8" height="8"/><rect x="393" y="449" width="8" height="8"/><rect x="363" y="456" width="8" height="8"/><rect x="344" y="454" width="8" height="8"/></g>
<g fill="#0A88E0"><rect x="378" y="469" width="8" height="8"/><rect x="391" y="463" width="8" height="8"/></g>
<text class="lb" x="343" y="437">G14:</text>
<text class="lb" x="343" y="462">#chat...</text>
</g>

<g id="G18">
<g fill="#F8C080"><rect x="346" y="504" width="8" height="8"/><rect x="368" y="504" width="8" height="8"/><rect x="373" y="513" width="8" height="8"/><rect x="346" y="518" width="8" height="8"/><rect x="349" y="523" width="8" height="8"/></g>
<g fill="#F08A10"><rect x="388" y="491" width="8" height="8"/><rect x="394" y="504" width="8" height="8"/><rect x="394" y="518" width="8" height="8"/><rect x="359" y="533" width="8" height="8"/><rect x="385" y="533" width="8" height="8"/></g>
<text class="lb" x="343" y="505">G18:</text>
<text class="lb" x="343" y="529">till...</text>
</g>

<g id="G17">
<g class="lp"><circle cx="380" cy="572" r="12"/><circle cx="400" cy="583" r="10"/><circle cx="417" cy="590" r="10"/></g>
<g fill="#E07070"><rect x="346" y="571" width="8" height="8"/><rect x="356" y="568" width="8" height="8"/><rect x="358" y="576" width="8" height="8"/><rect x="351" y="586" width="8" height="8"/><rect x="384" y="586" width="8" height="8"/></g>
<g fill="#C80000"><rect x="394" y="596" width="8" height="8"/><rect x="386" y="589" width="8" height="8"/></g>
<text class="lb" x="343" y="569">G17:</text>
<text class="lb" x="343" y="594">#chat...</text>
</g>

<g id="G20">
<use href="#L" x="450" y="128"/>
<g fill="#C8E080"><rect x="414" y="123" width="8" height="8"/><rect x="432" y="122" width="8" height="8"/><rect x="444" y="116" width="8" height="8"/><rect x="454" y="128" width="8" height="8"/></g>
<rect x="425" y="151" width="8" height="8" fill="#98C800"/>
<text class="lb" x="413" y="122">G20:</text>
<text class="lb" x="413" y="144">bin...</text>
</g>
<g id="G19">
<use href="#L" x="455" y="205"/>
<g fill="#FFD060"><rect x="414" y="191" width="8" height="8"/><rect x="431" y="194" width="8" height="8"/><rect x="446" y="188" width="8" height="8"/><rect x="448" y="211" width="8" height="8"/></g>
<g fill="#F8BE00"><rect x="419" y="213" width="8" height="8"/><rect x="432" y="219" width="8" height="8"/></g>
<text class="lb" x="413" y="190">G19:</text>
<text class="lb" x="413" y="212">#ch...</text>
</g>
<g id="G23">
<g fill="#B080E0"><rect x="414" y="254" width="8" height="8"/><rect x="433" y="256" width="8" height="8"/><rect x="431" y="238" width="8" height="8"/><rect x="448" y="256" width="8" height="8"/><rect x="423" y="269" width="8" height="8"/></g>
<rect x="439" y="278" width="8" height="8" fill="#6020B0"/>
<text class="lb" x="413" y="255">G23:</text>
<text class="lb" x="413" y="280">min...</text>
</g>
<g id="G22">
<use href="#L" x="457" y="313"/>
<g fill="#9A70A8"><rect x="414" y="313" width="8" height="8"/><rect x="423" y="314" width="8" height="8"/><rect x="431" y="316" width="8" height="8"/><rect x="439" y="318" width="8" height="8"/><rect x="446" y="318" width="8" height="8"/><rect x="439" y="298" width="8" height="8"/></g>
<rect x="433" y="338" width="8" height="8" fill="#500060"/>
<text class="lb" x="413" y="312">G22:</text>
<text class="lb" x="413" y="337">cust...</text>
</g>
<g id="G21">
<use href="#L" x="457" y="370"/>
<g fill="#E080B8"><rect x="441" y="356" width="8" height="8"/><rect x="433" y="366" width="8" height="8"/><rect x="424" y="369" width="8" height="8"/><rect x="415" y="379" width="8" height="8"/><rect x="441" y="379" width="8" height="8"/><rect x="448" y="378" width="8" height="8"/></g>
<rect x="434" y="395" width="8" height="8" fill="#C80078"/>
<text class="lb" x="413" y="374">G21:</text>
<text class="lb" x="413" y="397">mar...</text>
</g>
<g id="G26" fill="#80C8F0">
<use href="#fd" x="430" y="433"/><use href="#fd" x="442" y="422"/><use href="#fd" x="447" y="435"/><use href="#fd" x="447" y="448"/><use href="#fd" x="430" y="445"/>
<text class="lb" x="413" y="430">G26:</text>
<text class="lb" x="413" y="455">#trx...</text>
</g>
<g id="G27" fill="#70B090">
<use href="#fd" x="435" y="483"/><use href="#fd" x="418" y="490"/><use href="#fd" x="452" y="490"/><use href="#fd" x="430" y="493"/><use href="#fd" x="440" y="497"/><use href="#fd" x="437" y="488"/>
<text class="lb" x="413" y="480">G27:</text>
<text class="lb" x="413" y="505">pro...</text>
</g>
<g id="G24">
<use href="#L" x="433" y="518"/>
<g fill="#80B0C8"><rect x="414" y="533" width="8" height="8"/><rect x="432" y="530" width="8" height="8"/><rect x="448" y="535" width="8" height="8"/><rect x="424" y="516" width="8" height="8"/><rect x="431" y="543" width="8" height="8"/></g>
<text class="lb" x="413" y="532">G24:</text>
<text class="lb" x="413" y="557">goo...</text>
</g>
<g id="G25" fill="#7880B8">
<use href="#L" x="440" y="567"/><use href="#L" x="420" y="580"/>
<use href="#fd" x="420" y="583"/><use href="#fd" x="432" y="588"/><use href="#fd" x="450" y="570"/><use href="#fd" x="442" y="578"/><use href="#fd" x="433" y="600"/>
<text class="lb" x="413" y="580">G25:</text>
<text class="lb" x="413" y="605">#ch...</text>
</g>

<g id="row2">
<use href="#fd" x="473" y="112" fill="#A070B0"/><use href="#fd" x="498" y="121" fill="#A070B0"/><use href="#fd" x="485" y="117" fill="#A070B0"/><use href="#fd" x="477" y="133" fill="#500050"/>
<use href="#fd" x="540" y="108" fill="#E07AB8"/><use href="#fd" x="528" y="132" fill="#C0006A"/><use href="#fd" x="548" y="131" fill="#C0006A"/><use href="#fd" x="522" y="112" fill="#E07AB8"/>
<path d="M585,124L597,133" stroke="#2A6F8A" stroke-width="6" stroke-linecap="round"/>
<use href="#fd" x="645" y="110" fill="#A070F0"/><use href="#fd" x="617" y="133" fill="#5010C0"/><use href="#fd" x="636" y="132" fill="#5010C0"/><use href="#fd" x="645" y="125" fill="#5010C0"/>
<use href="#L" x="702" y="108"/><use href="#L" x="672" y="125"/>
<use href="#fd" x="667" y="125" fill="#B8D860"/><use href="#fd" x="680" y="133" fill="#98C800"/><use href="#fd" x="695" y="116" fill="#C8E487"/>
<use href="#fd" x="717" y="110" fill="#E08080"/><path d="M733,126L742,133" stroke="#B00000" stroke-width="6" stroke-linecap="round"/>
<use href="#L" x="765" y="125"/>
<use href="#fd" x="763" y="113" fill="#70D070"/><use href="#fd" x="787" y="110" fill="#70D070"/><use href="#fd" x="768" y="133" fill="#10A010"/><use href="#fd" x="792" y="130" fill="#10A010"/>
<use href="#L" x="815" y="125"/>
<use href="#fd" x="813" y="113" fill="#F8D070"/><use href="#fd" x="836" y="110" fill="#F8D070"/><use href="#fd" x="817" y="133" fill="#F8B800"/><use href="#fd" x="842" y="130" fill="#F8B800"/>
<use href="#L" x="865" y="125"/>
<use href="#fd" x="862" y="113" fill="#F0B070"/><use href="#fd" x="887" y="110" fill="#F0B070"/><use href="#fd" x="867" y="133" fill="#E87A10"/><use href="#fd" x="891" y="130" fill="#E87A10"/>
<use href="#L" x="912" y="122"/>
<g fill="#3A98E8"><circle cx="925" cy="110" r="4"/><circle cx="912" cy="125" r="4"/><circle cx="923" cy="123" r="4"/><circle cx="930" cy="133" r="4"/></g>
<text class="lb m" x="465" y="122">G3...</text><text class="lb m" x="513" y="122">G3...</text><text class="lb m" x="562" y="122">G3...</text><text class="lb m" x="611" y="122">G3...</text><text class="lb m" x="661" y="122">G3...</text><text class="lb m" x="710" y="122">G2...</text><text class="lb m" x="756" y="122">G2...</text><text class="lb m" x="805" y="122">G3...</text><text class="lb m" x="855" y="122">G3...</text><text class="lb m" x="905" y="122">G...</text>
</g>

<g id="row3">
<use href="#L" x="480" y="160"/>
<circle cx="470" cy="165" r="4" fill="#1C7A3A"/><circle cx="492" cy="176" r="4" fill="#1C7A3A"/>
<use href="#ft" x="512" y="170" fill="#106A40"/><use href="#ft" x="523" y="165" fill="#50B080"/><use href="#ft" x="533" y="165" fill="#50B080"/>
<use href="#L" x="598" y="168"/>
<use href="#ft" x="560" y="170" fill="#101070"/><use href="#ft" x="590" y="153" fill="#7080B0"/><use href="#ft" x="587" y="163" fill="#7080B0"/>
<use href="#ft" x="642" y="153" fill="#70C0F0"/><use href="#ft" x="633" y="163" fill="#50B0F0"/><use href="#ft" x="613" y="168" fill="#30A0F0"/>
<use href="#ft" x="660" y="168" fill="#C0007A"/><use href="#ft" x="690" y="160" fill="#E070B0"/><use href="#ft" x="700" y="155" fill="#E070B0"/>
<use href="#ft" x="710" y="168" fill="#500060"/><use href="#ft" x="740" y="160" fill="#9070B0"/><use href="#ft" x="745" y="152" fill="#9070B0"/>
<use href="#L" x="760" y="165"/>
<use href="#ft" x="780" y="168" fill="#90C000"/><use href="#ft" x="795" y="165" fill="#B0D060"/><use href="#ft" x="790" y="158" fill="#B0D060"/>
<use href="#ft" x="815" y="168" fill="#E07010"/><use href="#ft" x="830" y="162" fill="#F0B070"/><use href="#ft" x="845" y="158" fill="#F0B070"/>
<use href="#L" x="865" y="162"/>
<use href="#ft" x="878" y="168" fill="#F8C000"/><use href="#ft" x="880" y="160" fill="#FFD870"/><use href="#ft" x="893" y="153" fill="#FFD870"/>
<use href="#hs" x="918" y="152" stroke="#E87A10"/><use href="#hs" x="910" y="170" stroke="#E87A10"/><use href="#hs" x="930" y="167" stroke="#E87A10"/>
<text class="lb m" x="465" y="165">G5...</text><text class="lb m" x="505" y="165">G39</text><text class="lb m" x="555" y="165">G3...</text><text class="lb m" x="605" y="165">G3...</text><text class="lb m" x="655" y="165">G4...</text><text class="lb m" x="705" y="165">G4...</text><text class="lb m" x="755" y="165">G4...</text><text class="lb m" x="805" y="165">G4...</text><text class="lb m" x="855" y="165">G4...</text><text class="lb m" x="905" y="165">G...</text>
</g>

<g id="colC">
<use href="#L" x="498" y="198"/><use href="#L" x="498" y="240"/><use href="#L" x="498" y="340"/><use href="#L" x="497" y="383"/><use href="#L" x="470" y="418"/><use href="#L" x="470" y="460"/><use href="#L" x="485" y="505"/><use href="#L" x="490" y="580"/>
<g fill="#2A3A8A"><circle cx="483" cy="195" r="4"/><circle cx="470" cy="215" r="4"/><circle cx="483" cy="212" r="4"/><circle cx="493" cy="218" r="4"/></g>
<use href="#ft" x="482" y="238" fill="#9060F0"/><use href="#ft" x="473" y="247" fill="#9060F0"/><use href="#ft" x="493" y="250" fill="#9060F0"/><use href="#ft" x="482" y="260" fill="#4010A0"/>
<use href="#ft" x="467" y="303" fill="#206F80"/><use href="#ft" x="480" y="294" fill="#3A90A0"/><use href="#ft" x="492" y="296" fill="#206F80"/>
<g fill="#F8B020"><circle cx="472" cy="340" r="4"/><circle cx="483" cy="337" r="4"/><circle cx="492" cy="345" r="4"/></g>
<g fill="#A0D020"><circle cx="470" cy="388" r="4"/><circle cx="483" cy="382" r="4"/><circle cx="493" cy="365" r="4"/><circle cx="487" cy="373" r="4"/></g>
<g fill="#F0A030"><circle cx="470" cy="430" r="4"/><circle cx="480" cy="420" r="4"/><circle cx="492" cy="423" r="4"/></g>
<g fill="#30B840"><circle cx="472" cy="472" r="4"/><circle cx="482" cy="465" r="4"/><circle cx="492" cy="470" r="4"/></g>
<g fill="#D03030"><circle cx="472" cy="513" r="4"/><circle cx="482" cy="507" r="4"/><circle cx="492" cy="513" r="4"/></g>
<use href="#ft" x="482" y="557" fill="#10B030"/><use href="#ft" x="472" y="537" fill="#70D880"/><use href="#ft" x="492" y="537" fill="#70D880"/>
<use href="#ft" x="472" y="600" fill="#C01010"/><use href="#ft" x="486" y="593" fill="#E06060"/><use href="#ft" x="492" y="577" fill="#E06060"/>
<text class="lb m" x="465" y="209">G4...</text><text class="lb m" x="465" y="252">G4...</text><text class="lb m" x="465" y="295">G48</text><text class="lb m" x="465" y="338">G5...</text><text class="lb m" x="465" y="381">G5...</text><text class="lb m" x="465" y="424">G5...</text><text class="lb m" x="465" y="466">G5...</text><text class="lb m" x="465" y="509">G5...</text><text class="lb m" x="465" y="552">G4...</text><text class="lb m" x="465" y="595">G4...</text>
</g>

<g id="colD">
<use href="#L" x="505" y="199"/><use href="#L" x="505" y="235"/><use href="#L" x="505" y="271"/><use href="#L" x="505" y="306"/><use href="#L" x="505" y="342"/><use href="#L" x="505" y="378"/><use href="#L" x="505" y="414"/><use href="#L" x="505" y="449"/><use href="#L" x="505" y="485"/><use href="#L" x="505" y="521"/><use href="#L" x="505" y="557"/><use href="#L" x="505" y="592"/>
<use href="#hs" x="528" y="190" stroke="#E07070"/><use href="#hs" x="512" y="205" stroke="#C00000"/>
<use href="#hs" x="528" y="226" stroke="#C8E070"/><use href="#hs" x="512" y="241" stroke="#90C000"/>
<use href="#hs" x="528" y="262" stroke="#F8D060"/><use href="#hs" x="512" y="277" stroke="#F0B000"/>
<use href="#hs" x="528" y="297" stroke="#60B8F0"/><use href="#hs" x="512" y="312" stroke="#2080E0"/>
<use href="#hs" x="528" y="333" stroke="#7080B0"/><use href="#hs" x="512" y="348" stroke="#101060"/>
<use href="#hs" x="528" y="369" stroke="#70D090"/><use href="#hs" x="512" y="384" stroke="#20A050"/>
<use href="#hs" x="528" y="405" stroke="#70A890"/><use href="#hs" x="512" y="420" stroke="#005030"/>
<use href="#hd" x="528" y="440" stroke="#60B8F0"/><use href="#hd" x="512" y="455" stroke="#2070E0"/>
<use href="#hd" x="528" y="476" stroke="#6070C0"/><use href="#hd" x="512" y="491" stroke="#101060"/>
<use href="#hd" x="512" y="512" stroke="#40C060"/><use href="#hd" x="528" y="528" stroke="#30C040"/>
<use href="#hd" x="528" y="548" stroke="#40B070"/><use href="#hd" x="512" y="563" stroke="#108040"/>
<use href="#hs" x="515" y="590" stroke="#8050A0"/><use href="#hs" x="528" y="602" stroke="#500070"/>
<text class="lb s" x="504" y="201">G...</text><text class="lb s" x="504" y="237">G...</text><text class="lb s" x="504" y="273">G...</text><text class="lb s" x="504" y="308">G...</text><text class="lb s" x="504" y="344">G...</text><text class="lb s" x="504" y="380">G...</text><text class="lb s" x="504" y="416">G...</text><text class="lb s" x="504" y="451">G...</text><text class="lb s" x="504" y="487">G...</text><text class="lb s" x="504" y="523">G...</text><text class="lb s" x="504" y="559">G...</text><text class="lb s" x="504" y="594">G...</text>
</g>

<g id="row4">
<use href="#L" x="572" y="198"/><use href="#L" x="609" y="198"/><use href="#L" x="645" y="198"/><use href="#L" x="682" y="200"/><use href="#L" x="718" y="198"/><use href="#L" x="755" y="200"/><use href="#L" x="791" y="198"/>
<use href="#hs" x="565" y="193" stroke="#E060A0"/><use href="#hs" x="552" y="205" stroke="#D02080"/>
<use href="#hs" x="600" y="190" stroke="#50A0A8"/><use href="#hs" x="585" y="205" stroke="#207080"/>
<use href="#hs" x="638" y="190" stroke="#9050E0"/><use href="#hs" x="620" y="205" stroke="#6020C0"/>
<use href="#hc" x="673" y="190" stroke="#60B8F0"/><use href="#hc" x="657" y="205" stroke="#2090E0"/>
<use href="#hc" x="710" y="190" stroke="#5060B0"/><use href="#hc" x="693" y="205" stroke="#102080"/>
<use href="#hc" x="747" y="190" stroke="#60D070"/><use href="#hc" x="732" y="205" stroke="#10B030"/>
<use href="#hc" x="783" y="190" stroke="#40A070"/><use href="#hc" x="767" y="205" stroke="#107040"/>
<circle cx="805" cy="190" r="4" fill="#A070C0"/><circle cx="820" cy="205" r="4" fill="#602080"/>
<circle cx="857" cy="190" r="4" fill="#F0A0D0"/><circle cx="840" cy="205" r="4" fill="#D04090"/>
<circle cx="893" cy="190" r="4" fill="#60A8C0"/><circle cx="877" cy="205" r="4" fill="#207890"/>
<circle cx="928" cy="190" r="4" fill="#B090F0"/><circle cx="912" cy="205" r="4" fill="#6030D0"/>
<text class="lb s" x="541" y="200">G...</text><text class="lb s" x="577" y="200">G...</text><text class="lb s" x="614" y="200">G...</text><text class="lb s" x="650" y="200">G...</text><text class="lb s" x="687" y="200">G...</text><text class="lb s" x="723" y="200">G...</text><text class="lb s" x="760" y="200">G...</text><text class="lb s" x="796" y="200">G...</text><text class="lb s" x="833" y="200">G...</text><text class="lb s" x="869" y="200">G...</text><text class="lb s" x="906" y="200">G...</text>
</g>

<g id="rows5to7">
<use href="#L" x="562" y="235"/><use href="#L" x="600" y="230"/><use href="#L" x="660" y="222"/><use href="#L" x="690" y="238"/><use href="#L" x="748" y="238"/><use href="#L" x="825" y="238"/><use href="#L" x="905" y="224"/>
<use href="#L" x="548" y="262"/><use href="#L" x="570" y="250"/><use href="#L" x="678" y="258"/><use href="#L" x="720" y="270"/><use href="#L" x="850" y="253"/><use href="#L" x="893" y="256"/>
<use href="#L" x="540" y="300"/><use href="#L" x="615" y="280"/><use href="#L" x="755" y="300"/><use href="#L" x="790" y="298"/><use href="#L" x="860" y="298"/><use href="#L" x="905" y="298"/>
<use href="#hc" x="557" y="224" stroke="#B070E0"/><use href="#fd" x="585" y="224" fill="#F8C080"/><use href="#fd" x="614" y="224" fill="#60E080"/><use href="#fd" x="643" y="222" fill="#80E080"/><use href="#fs" x="673" y="232" fill="#FFE080"/><use href="#fd" x="693" y="224" fill="#C080F0"/><use href="#fd" x="720" y="224" fill="#C0A0F0"/><use href="#fs" x="750" y="228" fill="#FFE080"/><use href="#fd" x="787" y="224" fill="#F070C0"/><use href="#fs" x="815" y="222" fill="#E0F080"/><use href="#fs" x="843" y="222" fill="#F8A0C8"/><use href="#fs" x="872" y="222" fill="#FFC8A0"/><use href="#fs" x="900" y="232" fill="#FFE0B0"/><use href="#fs" x="928" y="235" fill="#D080F0"/>
<use href="#hc" x="550" y="250" stroke="#602080"/><use href="#hc" x="555" y="298" stroke="#C02060"/>
<use href="#fd" x="585" y="265" fill="#6080F0"/><use href="#fd" x="614" y="265" fill="#80E0A0"/><use href="#fd" x="643" y="265" fill="#80F0A0"/><use href="#fd" x="672" y="262" fill="#80E0B0"/><use href="#fd" x="700" y="262" fill="#A0E0B0"/><use href="#fd" x="729" y="262" fill="#6080F0"/><use href="#fd" x="758" y="262" fill="#A0D0F0"/><use href="#fd" x="786" y="262" fill="#FFB0B0"/><use href="#fd" x="814" y="262" fill="#E0F080"/><use href="#fd" x="843" y="262" fill="#F8B0D0"/><use href="#fd" x="872" y="262" fill="#FFD0A0"/><use href="#fd" x="900" y="262" fill="#FFE0A0"/><use href="#ht" x="929" y="262" stroke="#80E080"/>
<use href="#hd" x="585" y="292" stroke="#60C0F0"/><use href="#hs" x="614" y="292" stroke="#F8A0A0"/><use href="#hd" x="643" y="292" stroke="#F8C080"/><use href="#hd" x="672" y="292" stroke="#F0A0C0"/><use href="#hd" x="700" y="292" stroke="#60B0E0"/><use href="#hs" x="729" y="292" stroke="#6070D0"/><use href="#hd" x="758" y="292" stroke="#B080E0"/><use href="#hd" x="786" y="292" stroke="#C080E0"/><use href="#ht" x="814" y="292" stroke="#A080E0"/><circle cx="843" cy="288" r="4" fill="#C070F0"/><circle cx="872" cy="288" r="4" fill="#70D8F8"/><circle cx="900" cy="288" r="4" fill="#F880C0"/><circle cx="929" cy="288" r="4" fill="#C070E0"/>
<text class="lb s" x="540" y="237">G...</text><text class="lb s" x="569" y="237">G...</text><text class="lb s" x="597" y="237">G...</text><text class="lb s" x="626" y="237">G...</text><text class="lb s" x="655" y="237">G...</text><text class="lb s" x="684" y="237">G...</text><text class="lb s" x="712" y="237">G...</text><text class="lb s" x="741" y="237">G...</text><text class="lb s" x="770" y="237">G...</text><text class="lb s" x="798" y="237">G...</text><text class="lb s" x="827" y="237">G...</text><text class="lb s" x="856" y="237">G...</text><text class="lb s" x="885" y="237">G...</text><text class="lb s" x="913" y="237">G...</text>
<text class="lb s" x="540" y="282">G...</text>
<text class="lb s" x="569" y="267">G...</text><text class="lb s" x="597" y="267">G...</text><text class="lb s" x="626" y="267">G...</text><text class="lb s" x="655" y="267">G...</text><text class="lb s" x="684" y="267">G...</text><text class="lb s" x="712" y="267">G...</text><text class="lb s" x="741" y="267">G...</text><text class="lb s" x="770" y="267">G...</text><text class="lb s" x="798" y="267">G...</text><text class="lb s" x="827" y="267">G...</text><text class="lb s" x="856" y="267">G...</text><text class="lb s" x="885" y="267">G...</text><text class="lb s" x="913" y="267">G...</text>
<text class="lb s" x="569" y="297">G...</text><text class="lb s" x="597" y="297">G...</text><text class="lb s" x="626" y="297">G...</text><text class="lb s" x="655" y="297">G...</text><text class="lb s" x="684" y="297">G...</text><text class="lb s" x="712" y="297">G...</text><text class="lb s" x="741" y="297">G...</text><text class="lb s" x="770" y="297">G...</text><text class="lb s" x="798" y="297">G...</text><text class="lb s" x="827" y="297">G...</text><text class="lb s" x="856" y="297">G...</text><text class="lb s" x="885" y="297">G...</text><text class="lb s" x="913" y="297">G...</text>
</g>

<g id="leftblock">
<use href="#L" x="565" y="325"/><use href="#L" x="640" y="315"/><use href="#L" x="560" y="372"/><use href="#L" x="582" y="355"/><use href="#L" x="612" y="346"/><use href="#L" x="645" y="350"/><use href="#L" x="612" y="385"/><use href="#L" x="645" y="395"/><use href="#L" x="585" y="415"/><use href="#L" x="615" y="420"/><use href="#L" x="548" y="437"/><use href="#L" x="645" y="440"/><use href="#L" x="590" y="475"/><use href="#L" x="615" y="478"/><use href="#L" x="560" y="473"/><use href="#L" x="575" y="500"/><use href="#L" x="640" y="505"/><use href="#L" x="558" y="530"/><use href="#L" x="612" y="530"/><use href="#L" x="645" y="540"/><use href="#L" x="585" y="565"/><use href="#L" x="560" y="575"/><use href="#L" x="625" y="568"/><use href="#L" x="590" y="590"/><use href="#L" x="640" y="598"/>
<use href="#hc" x="555" y="340" stroke="#40A0B0"/><use href="#hc" x="547" y="362" stroke="#B090E0"/><use href="#hc" x="555" y="385" stroke="#7040D0"/><use href="#hc" x="552" y="410" stroke="#F0A060"/><use href="#hc" x="555" y="430" stroke="#F08030"/><use href="#hc" x="557" y="453" stroke="#F07070"/><use href="#hc" x="548" y="477" stroke="#D03020"/><use href="#hc" x="555" y="497" stroke="#C0E040"/><use href="#hc" x="548" y="523" stroke="#A0D020"/><use href="#hc" x="557" y="543" stroke="#F8D040"/><use href="#hc" x="548" y="568" stroke="#F0B000"/><use href="#hc" x="553" y="590" stroke="#F08080"/>
<use href="#fs" x="588" y="315" fill="#C8A0F0"/><use href="#fs" x="620" y="322" fill="#6080F0"/><use href="#fs" x="648" y="325" fill="#8090F0"/>
<use href="#fs" x="578" y="348" fill="#80C8F8"/><use href="#fs" x="610" y="344" fill="#80D0B0"/><use href="#fs" x="645" y="356" fill="#60E070"/>
<use href="#fd" x="585" y="378" fill="#80C0F0"/><use href="#fd" x="612" y="378" fill="#F8C080"/><use href="#fs" x="645" y="384" fill="#F08080"/>
<use href="#fd" x="585" y="406" fill="#80C0F0"/><use href="#fd" x="612" y="406" fill="#E0A0C0"/><use href="#fs" x="645" y="410" fill="#80C8F8"/>
<circle cx="585" cy="438" r="4" fill="#6080F0"/><use href="#fd" x="612" y="438" fill="#F0A0A0"/><use href="#fs" x="645" y="440" fill="#80E0A0"/>
<use href="#ft" x="587" y="468" fill="#C080F0"/><use href="#fd" x="615" y="470" fill="#F8C080"/><circle cx="645" cy="472" r="4" fill="#80C8F8"/>
<use href="#ft" x="587" y="498" fill="#C080F0"/><use href="#fd" x="615" y="500" fill="#E0F080"/><circle cx="645" cy="502" r="4" fill="#60E080"/>
<circle cx="587" cy="528" r="4" fill="#80C0F0"/><use href="#fd" x="615" y="530" fill="#F8D080"/><use href="#ft" x="645" y="530" fill="#60C0C0"/>
<use href="#fd" x="587" y="560" fill="#F08080"/><use href="#fd" x="615" y="560" fill="#F0E080"/><circle cx="645" cy="560" r="4" fill="#6070F0"/>
<use href="#fd" x="587" y="600" fill="#F8B080"/><use href="#fd" x="615" y="600" fill="#F0A0A0"/><circle cx="645" cy="592" r="4" fill="#60E080"/>
<text class="lb s" x="540" y="325">G...</text><text class="lb s" x="540" y="373">G...</text><text class="lb s" x="540" y="415">G...</text><text class="lb s" x="540" y="462">G...</text><text class="lb s" x="540" y="507">G...</text><text class="lb s" x="540" y="552">G...</text><text class="lb s" x="540" y="601">G...</text>
<text class="lb s" x="569" y="323">G...</text><text class="lb s" x="597" y="323">G...</text><text class="lb s" x="626" y="323">G...</text>
<text class="lb s" x="569" y="356">G...</text><text class="lb s" x="597" y="356">G...</text><text class="lb s" x="626" y="356">G...</text>
<text class="lb s" x="569" y="384">G...</text><text class="lb s" x="597" y="384">G...</text><text class="lb s" x="626" y="384">G...</text>
<text class="lb s" x="569" y="414">G...</text><text class="lb s" x="597" y="414">G...</text><text class="lb s" x="626" y="414">G...</text>
<text class="lb s" x="569" y="443">G...</text><text class="lb s" x="597" y="443">G...</text><text class="lb s" x="626" y="443">G...</text>
<text class="lb s" x="569" y="478">G...</text><text class="lb s" x="597" y="478">G...</text><text class="lb s" x="626" y="478">G...</text>
<text class="lb s" x="569" y="508">G...</text><text class="lb s" x="597" y="508">G...</text><text class="lb s" x="626" y="508">G...</text>
<text class="lb s" x="569" y="536">G...</text><text class="lb s" x="597" y="536">G...</text><text class="lb s" x="626" y="536">G...</text>
<text class="lb s" x="569" y="571">G...</text><text class="lb s" x="597" y="571">G...</text><text class="lb s" x="626" y="571">G...</text>
<text class="lb s" x="569" y="599">G...</text><text class="lb s" x="597" y="599">G...</text><text class="lb s" x="626" y="599">G...</text>
</g>

<g id="dotgrid">
<use href="#L" x="658" y="315"/><use href="#L" x="702" y="315"/><use href="#L" x="822" y="318"/><use href="#L" x="842" y="318"/><use href="#L" x="863" y="318"/><use href="#L" x="883" y="318"/><use href="#L" x="904" y="318"/><use href="#L" x="924" y="318"/>
<g id="loops">
<use href="#L" x="658" y="337"/><use href="#L" x="679" y="337"/><use href="#L" x="699" y="337"/><use href="#L" x="720" y="337"/><use href="#L" x="740" y="337"/><use href="#L" x="761" y="337"/><use href="#L" x="781" y="337"/><use href="#L" x="802" y="337"/><use href="#L" x="822" y="337"/><use href="#L" x="843" y="337"/><use href="#L" x="863" y="337"/><use href="#L" x="884" y="337"/><use href="#L" x="904" y="337"/><use href="#L" x="925" y="337"/>
</g>
<use href="#loops" y="22"/><use href="#loops" y="43"/><use href="#loops" y="65"/><use href="#loops" y="87"/><use href="#loops" y="108"/><use href="#loops" y="130"/><use href="#loops" y="152"/><use href="#loops" y="173"/><use href="#loops" y="195"/><use href="#loops" y="217"/><use href="#loops" y="238"/><use href="#loops" y="260"/>
<circle cx="673" cy="317" r="4" fill="#FFC940"/><circle cx="714" cy="317" r="4" fill="#C8F020"/><circle cx="755" cy="317" r="4" fill="#FF2020"/><circle cx="796" cy="317" r="4" fill="#FF9A30"/>
<use href="#hs" x="827" y="317" stroke="#60F090"/><use href="#hs" x="848" y="317" stroke="#70C0F0"/><use href="#hs" x="868" y="317" stroke="#4060F0"/><use href="#hs" x="889" y="317" stroke="#FFB070"/><use href="#hs" x="909" y="317" stroke="#FF7060"/><use href="#hs" x="930" y="317" stroke="#70F070"/>
<use href="#hc" x="663" y="339" stroke="#F080C0"/><use href="#hs" x="684" y="339" stroke="#F8D070"/><use href="#hs" x="704" y="339" stroke="#50C8F0"/><use href="#hs" x="725" y="339" stroke="#B060F0"/><use href="#hs" x="745" y="339" stroke="#C040F0"/><use href="#sp" x="766" y="339" fill="#50E0A0"/><use href="#sp" x="786" y="339" fill="#80C0F0"/><use href="#sp" x="807" y="339" fill="#4060E0"/><use href="#sp" x="827" y="339" fill="#F0A060"/><use href="#sp" x="848" y="339" fill="#F06060"/><use href="#sp" x="868" y="339" fill="#60E060"/><use href="#ft" x="889" y="339" fill="#F060B0"/><use href="#ft" x="909" y="339" fill="#D0F060"/><use href="#ft" x="930" y="339" fill="#FFD060"/>
<use href="#hc" x="663" y="361" stroke="#D8F060"/><use href="#ft" x="684" y="361" fill="#30B0F0"/><use href="#sp" x="704" y="361" fill="#A050E0"/><use href="#sp" x="725" y="361" fill="#C040E0"/><use href="#fs" x="745" y="361" fill="#C8F0DC"/><use href="#fs" x="766" y="361" fill="#C8E0F8"/><use href="#fs" x="786" y="361" fill="#C8CCF8"/><use href="#fs" x="807" y="361" fill="#FDE2CC"/><use href="#fs" x="827" y="361" fill="#F8CCCC"/><use href="#fs" x="848" y="361" fill="#CCF0CC"/><use href="#sp" x="868" y="361" fill="#F8D4EA"/><use href="#sp" x="889" y="361" fill="#ECF8D4"/><use href="#sp" x="909" y="361" fill="#FFF0D4"/><use href="#sp" x="930" y="361" fill="#D4F0F8"/>
<use href="#hc" x="663" y="382" stroke="#F8C060"/><use href="#ft" x="684" y="382" fill="#A040E0"/><use href="#fs" x="704" y="382" fill="#E4CCF8"/><use href="#fs" x="725" y="382" fill="#ECCCF8"/><use href="#fs" x="745" y="382" fill="#F0CCF0"/><use href="#ht" x="766" y="382" stroke="#30D070"/><use href="#ht" x="786" y="382" stroke="#50B0F0"/><use href="#ht" x="807" y="382" stroke="#3050E0"/><use href="#ht" x="827" y="382" stroke="#F0A060"/><use href="#ht" x="848" y="382" stroke="#F05050"/><use href="#ht" x="868" y="382" stroke="#50D050"/><use href="#hd" x="889" y="382" stroke="#F050B0"/><use href="#hd" x="909" y="382" stroke="#D0F040"/><use href="#hd" x="930" y="382" stroke="#F8C850"/>
<use href="#hc" x="663" y="404" stroke="#50C0F0"/><use href="#ft" x="684" y="404" fill="#D030E0"/><use href="#fs" x="704" y="404" fill="#F4CCF4"/><use href="#hd" x="725" y="404" stroke="#40B0F0"/><use href="#ht" x="745" y="404" stroke="#D0E050"/><use href="#ht" x="766" y="404" stroke="#F0C050"/><use href="#ht" x="786" y="404" stroke="#50C0E0"/><use href="#ht" x="807" y="404" stroke="#A060E0"/><use href="#ht" x="827" y="404" stroke="#C040F0"/><use href="#hd" x="848" y="404" stroke="#20D060"/><use href="#hd" x="868" y="404" stroke="#3090F0"/><use href="#hd" x="889" y="404" stroke="#1030D0"/><use href="#hd" x="909" y="404" stroke="#F09030"/><use href="#hd" x="930" y="404" stroke="#F03030"/>
<use href="#hc" x="663" y="426" stroke="#B070E0"/><use href="#hc" x="684" y="426" stroke="#60E0A0"/><use href="#sp" x="704" y="426" fill="#E0F8F0"/><use href="#hd" x="725" y="426" stroke="#A050F0"/><use href="#hd" x="745" y="426" stroke="#10D030"/><use href="#ht" x="766" y="426" stroke="#1030C0"/><use href="#ht" x="786" y="426" stroke="#F09040"/><use href="#ht" x="807" y="426" stroke="#F03030"/><use href="#ht" x="827" y="426" stroke="#30E040"/><use href="#hd" x="848" y="426" stroke="#F040A0"/><use href="#hd" x="868" y="426" stroke="#D0F030"/><use href="#hd" x="889" y="426" stroke="#F8B040"/><use href="#hd" x="909" y="426" stroke="#30B0F0"/><use href="#hd" x="930" y="426" stroke="#9030F0"/>
<use href="#hc" x="663" y="447" stroke="#C080F0"/><use href="#hc" x="684" y="447" stroke="#80C0F0"/><use href="#sp" x="704" y="447" fill="#D4E8F8"/><use href="#hd" x="725" y="447" stroke="#C040F0"/><use href="#hs" x="745" y="447" stroke="#E02090"/><use href="#hd" x="766" y="447" stroke="#A030E0"/><use href="#sp" x="786" y="447" fill="#C0F040"/><use href="#sp" x="807" y="447" fill="#F8B030"/><use href="#sp" x="827" y="447" fill="#20A0E0"/><use href="#sp" x="848" y="447" fill="#7030E0"/><use href="#sp" x="868" y="447" fill="#B030D0"/><use href="#hs" x="889" y="447" stroke="#10C060"/><use href="#hs" x="909" y="447" stroke="#30A0F0"/><use href="#hs" x="930" y="447" stroke="#1030E0"/>
<use href="#hd" x="663" y="469" stroke="#50E090"/><use href="#hc" x="684" y="469" stroke="#5060E0"/><use href="#fd" x="704" y="469" fill="#D4DCF8"/><use href="#sp" x="725" y="469" fill="#DCF4E4"/><use href="#hs" x="745" y="469" stroke="#C0E020"/><use href="#hc" x="766" y="469" stroke="#20D080"/><use href="#hs" x="786" y="469" stroke="#F09020"/><use href="#hc" x="807" y="469" stroke="#9030E0"/><use href="#hc" x="827" y="469" stroke="#B030E0"/><use href="#fd" x="848" y="469" fill="#40E080"/><use href="#fd" x="868" y="469" fill="#50B0F0"/><use href="#fd" x="889" y="469" fill="#3050E0"/><use href="#fd" x="909" y="469" fill="#F8A060"/><use href="#fd" x="930" y="469" fill="#F06060"/>
<use href="#hd" x="663" y="491" stroke="#60B0F0"/><use href="#hc" x="684" y="491" stroke="#F09070"/><use href="#fs" x="704" y="491" fill="#FDECDC"/><use href="#sp" x="725" y="491" fill="#DCE8F8"/><use href="#hs" x="745" y="491" stroke="#F8B020"/><use href="#hc" x="766" y="491" stroke="#30A0F0"/><use href="#hs" x="786" y="491" stroke="#F01010"/><use href="#fd" x="807" y="491" fill="#40D060"/><use href="#fs" x="827" y="491" fill="#D040F0"/><use href="#ft" x="848" y="491" fill="#30D080"/><use href="#ft" x="868" y="491" fill="#60B0F0"/><use href="#ft" x="889" y="491" fill="#3050E0"/><use href="#ft" x="909" y="491" fill="#F8A060"/><use href="#ft" x="930" y="491" fill="#F06060"/>
<use href="#hd" x="663" y="512" stroke="#3050E0"/><use href="#hc" x="684" y="512" stroke="#F07070"/><use href="#fd" x="704" y="512" fill="#F8D4DC"/><use href="#sp" x="725" y="512" fill="#D4DCF8"/><use href="#hs" x="745" y="512" stroke="#00A0E0"/><use href="#hc" x="766" y="512" stroke="#1020D0"/><use href="#hs" x="786" y="512" stroke="#10D010"/><use href="#fs" x="807" y="512" fill="#F070C0"/><use href="#ft" x="827" y="512" fill="#40D040"/><use href="#fd" x="848" y="512" fill="#A050E0"/><use href="#fd" x="868" y="512" fill="#C040F0"/><use href="#sp" x="889" y="512" fill="#30D080"/><use href="#sp" x="909" y="512" fill="#60B0F0"/><use href="#sp" x="930" y="512" fill="#4060E0"/>
<use href="#hd" x="663" y="534" stroke="#F8A030"/><use href="#hc" x="684" y="534" stroke="#50D050"/><use href="#fd" x="704" y="534" fill="#D4F0DC"/><use href="#sp" x="725" y="534" fill="#F8E4DC"/><use href="#hs" x="745" y="534" stroke="#8020E0"/><use href="#hc" x="766" y="534" stroke="#F09030"/><use href="#hc" x="786" y="534" stroke="#E020A0"/><use href="#fs" x="807" y="534" fill="#D8F060"/><use href="#fd" x="827" y="534" fill="#F060B0"/><use href="#sp" x="848" y="534" fill="#F8B060"/><use href="#ht" x="868" y="534" stroke="#C0E020"/><use href="#ht" x="889" y="534" stroke="#F0B030"/><use href="#ht" x="909" y="534" stroke="#10A0E0"/><use href="#ht" x="930" y="534" stroke="#9030F0"/>
<use href="#hd" x="663" y="556" stroke="#F06050"/><use href="#sp" x="684" y="556" fill="#F060B0"/><use href="#fs" x="704" y="556" fill="#F8CCE8"/><use href="#sp" x="725" y="556" fill="#F8DCDC"/><use href="#hs" x="745" y="556" stroke="#8020C0"/><use href="#hc" x="766" y="556" stroke="#F03030"/><use href="#hc" x="786" y="556" stroke="#C0E030"/><use href="#fs" x="807" y="556" fill="#F8D070"/><use href="#fd" x="827" y="556" fill="#D0F060"/><use href="#sp" x="848" y="556" fill="#F06060"/><use href="#ht" x="868" y="556" stroke="#B020E0"/><use href="#fs" x="889" y="556" fill="#4060F0"/><use href="#fs" x="909" y="556" fill="#F8B070"/><use href="#fs" x="930" y="556" fill="#F07070"/>
<use href="#hd" x="663" y="577" stroke="#60E080"/><use href="#sp" x="684" y="577" fill="#D0F060"/><use href="#fs" x="704" y="577" fill="#F0F8D4"/><use href="#sp" x="725" y="577" fill="#DCF8E4"/><use href="#ht" x="745" y="577" stroke="#10C060"/><use href="#hc" x="766" y="577" stroke="#30E050"/><use href="#hc" x="786" y="577" stroke="#F8C030"/><use href="#fs" x="807" y="577" fill="#60C8F8"/><use href="#fd" x="827" y="577" fill="#F8D070"/><use href="#sp" x="848" y="577" fill="#40E060"/><use href="#fs" x="868" y="577" fill="#40F0A0"/><use href="#fs" x="889" y="577" fill="#30E040"/><use href="#sp" x="909" y="577" fill="#D8F070"/><use href="#sp" x="930" y="577" fill="#F8D070"/>
<use href="#hs" x="663" y="599" stroke="#D0E040"/><use href="#sp" x="684" y="599" fill="#40B0F0"/><use href="#fs" x="704" y="599" fill="#CCECF8"/><use href="#ht" x="725" y="599" stroke="#F060B0"/><use href="#ht" x="745" y="599" stroke="#30A0F0"/><use href="#sp" x="766" y="599" fill="#E02080"/><use href="#hc" x="786" y="599" stroke="#10A0E0"/><use href="#fs" x="807" y="599" fill="#A040F0"/><use href="#fd" x="827" y="599" fill="#40C8F0"/><use href="#ht" x="848" y="599" stroke="#F040B0"/><use href="#fs" x="868" y="599" fill="#60B0F0"/><use href="#sp" x="889" y="599" fill="#F070C0"/>
<text class="lb" x="888" y="605" style="font-size:16px">GGG...</text>
</g>
</svg>
